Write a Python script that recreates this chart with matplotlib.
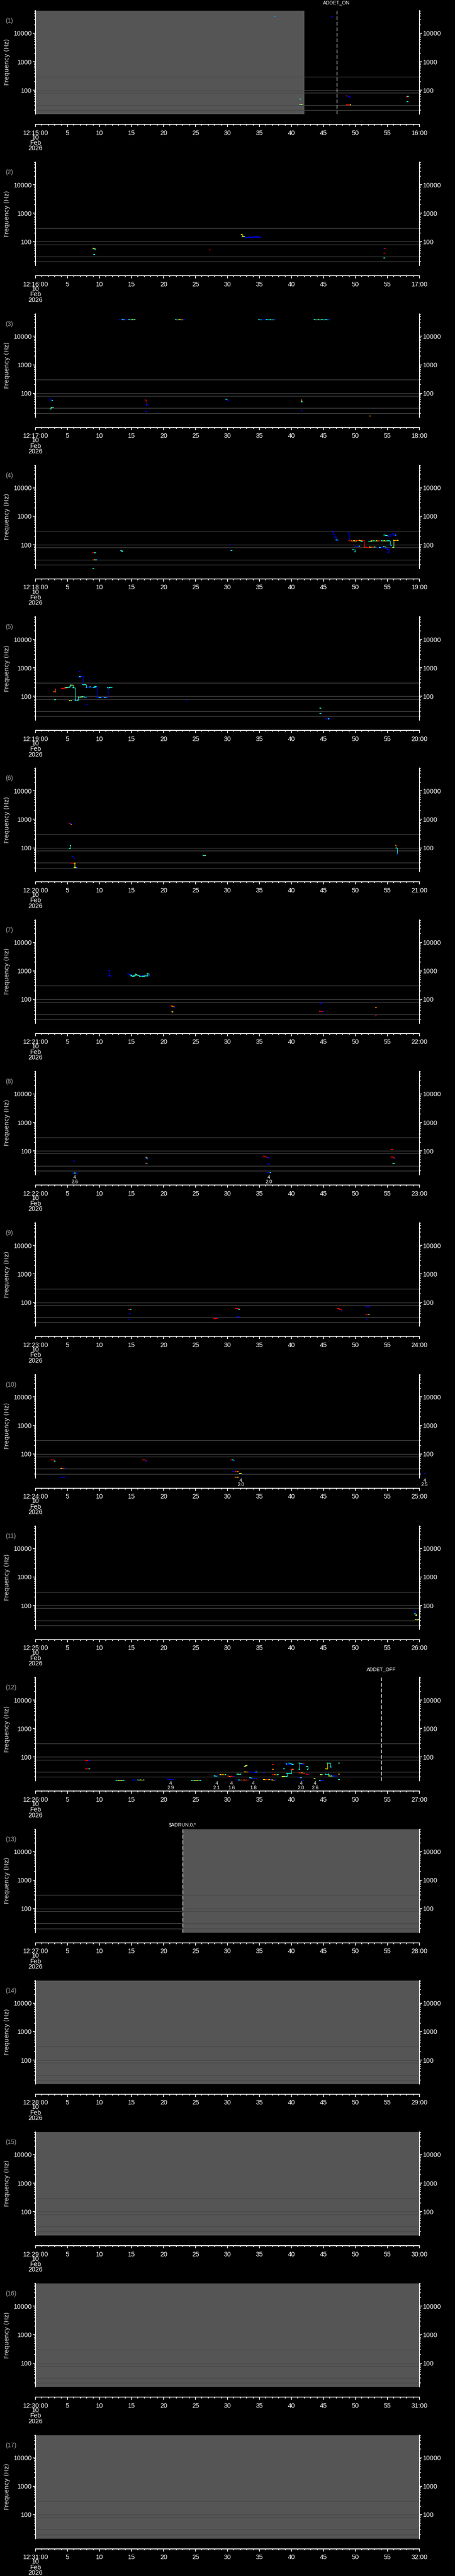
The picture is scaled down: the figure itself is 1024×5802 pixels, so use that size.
import numpy as np
import matplotlib
matplotlib.use('Agg')
import matplotlib.pyplot as plt
from matplotlib.ticker import LogLocator, NullFormatter, MultipleLocator

plt.rcParams['font.family'] = ['Liberation Sans', 'DejaVu Sans']

# colour levels on the jet scale
B, LB, C, G, Y, O, R = 0.12, 0.28, 0.38, 0.52, 0.66, 0.78, 0.90

n_panels = 17
first_minute = 15
ref_lines = [300, 100, 80, 30, 20]

shade_panels = [1, 13, 14, 15, 16, 17]
shade_start = [0, 23, 0, 0, 0, 0]
shade_end = [42, 60, 60, 60, 60, 60]

event_panels = [1, 12, 13]
event_times = [47.06, 54.0, 23.0]
event_labels = ['ADDET_ON', 'ADDET_OFF', '$ADRUN,0,*']
event_label_y = [6, 6, 15]   # px above panel top

# tracks: (seconds, frequency Hz, colour level)
p01 = [
    ([37.4], [38600], [LB]),
    ([46.3], [38000], [B]),
    ([41.4], [48.7], [C]),
    ([41.3, 41.6], [31.7, 31.7], [C, Y]),
    ([48.6, 48.8, 49.0, 49.2], [63, 63, 58, 55], [R, B, B, B]),
    ([48.6, 48.9, 49.2], [30.3, 30.3, 30.3], [R, R, Y]),
    ([58.0, 58.2], [59.8, 60.5], [R, C]),
    ([58.1], [40.3], [C]),
]
p02 = [
    ([9.0, 9.15, 9.3], [60, 57, 55], [Y, Y, C]),
    ([9.2], [35.3], [C]),
    ([27.2], [50.6], [R]),
    ([32.2, 32.35, 32.6, 32.8, 33.0, 33.3, 33.5, 33.7, 33.9, 34.1, 34.3, 34.5, 34.7, 34.9, 35.1],
     [178, 152, 150, 145, 143, 144, 146, 142, 145, 146, 150, 145, 150, 142, 142],
     [Y, Y, C, B, B, B, B, B, B, B, B, B, B, B, B]),
    ([54.5, 54.6], [57, 58], [B, R]),
    ([54.5], [39.4], [R]),
    ([54.5], [26.5], [C]),
]
p03 = [
    ([13.1, 13.6, 14.1, 14.6, 15.1, 15.5], [38600] * 6, [B, C, B, C, Y, C]),
    ([21.9, 22.5, 23.2], [38600] * 3, [C, Y, B]),
    ([34.9, 35.5, 36.1, 36.7, 37.4], [38600] * 5, [C, B, C, C, B]),
    ([43.6, 44.2, 44.8, 45.4, 45.9], [38600] * 5, [C, G, C, C, B]),
    ([2.27, 2.45, 2.59], [64, 58, 55.6], [B, B, C]),
    ([2.35, 2.45, 2.75], [27.8, 31.7, 31.7], [C, G, C]),
    ([17.2, 17.35, 17.5], [58, 38.4, 38.4], [R, B, B]),
    ([17.3], [23], [B]),
    ([29.8, 29.95, 30.1], [62.5, 58, 55.6], [C, B, B]),
    ([41.55, 41.6], [58, 50.6], [O, C]),
    ([41.6], [24.7], [B]),
    ([52.3], [16], [O]),
]
p04 = [
    ([9.04, 9.3], [53, 53], [R, C]),
    ([9.0, 9.2, 9.45, 9.7], [29.2, 29.2, 29.5, 29.5], [R, Y, C, B]),
    ([9.04], [14.9], [C]),
    ([13.35, 13.55], [63.5, 57.7], [C, C]),
    ([30.5], [99], [B]),
    ([30.6], [62], [C]),
    ([46.4, 46.6, 46.8, 47.0, 47.2], [286, 228, 182, 147, 140], [B, B, B, C, B]),
    ([48.9, 49.0, 49.4, 49.8, 50.2, 50.6, 50.9, 51.1, 51.4],
     [267, 140, 140, 138, 142, 143, 135, 143, 83.6], [B, R, O, Y, R, Y, C, R, Y]),
    ([49.6, 49.9], [67, 57], [C, C]),
    ([50.0, 50.3, 50.6], [91, 90, 91], [B, B, C]),
    ([51.4, 51.8, 52.2, 52.6, 53.0], [83, 82, 84, 84, 83], [R, R, Y, R, C]),
    ([52.1, 52.5, 52.9, 53.3, 53.7, 54.1, 54.5, 55.0],
     [133, 138, 137, 138, 137, 140, 137, 140], [C, Y, C, Y, R, C, Y, C]),
    ([53.5, 53.8, 54.1, 54.4, 54.7, 55.0, 55.2], [78, 81, 80, 86, 75, 67, 67], [B, C, B, C, B, B, B]),
    ([55.15, 55.2], [55, 67], [B, B]),
    ([55.2, 55.4, 55.6], [140, 97, 97], [C, B, C]),
    ([55.9, 56.0, 56.3, 56.6], [82, 143, 143, 143], [G, Y, O, Y]),
    ([54.46, 54.8, 55.1, 55.4, 55.8, 56.0, 56.3], [220, 215, 200, 228, 254, 210, 220], [C, C, B, B, B, B, C]),
]
p05 = [
    ([2.9, 3.1], [147, 181], [O, R]),
    ([3.05], [76], [C]),
    ([4.06, 4.3, 4.6, 4.87], [186, 190, 197, 202], [R, R, O, Y]),
    ([4.87, 5.1, 5.3, 5.5, 5.7, 5.9, 6.17], [205, 205, 215, 250, 250, 200, 74], [C, C, C, G, G, C, B]),
    ([5.3, 5.6], [71.6, 71.6], [Y, G]),
    ([6.2, 6.55], [74, 74], [C, Y]),
    ([6.55, 6.7, 7.0, 7.3, 7.6, 7.9], [74, 95, 95, 98, 95, 88], [C, C, Y, C, C, B]),
    ([6.7, 6.9, 7.1, 7.4, 7.7, 7.95, 8.2, 8.5, 8.8, 9.1, 9.3, 9.5, 9.6, 10.0, 10.4, 10.8, 11.2, 11.3, 11.6, 11.9],
     [480, 490, 505, 256, 256, 210, 205, 212, 205, 210, 222, 210, 92, 92, 90, 91, 90, 200, 205, 210],
     [B, C, B, C, C, C, B, C, B, C, C, B, B, C, B, C, B, C, C, C]),
    ([6.9], [760], [B]),
    ([7.97], [52], [B]),
    ([23.6], [69], [B]),
    ([44.5], [38.5], [C]),
    ([44.5], [25.4], [C]),
    ([45.5, 45.8, 46.0], [16.5, 16.5, 16.5], [B, C, B]),
]
p06 = [
    ([5.3, 5.45, 5.6], [711, 700, 663], [R, B, O]),
    ([5.3, 5.45], [95, 124], [C, C]),
    ([5.78, 6.0], [50.6, 41.7], [B, B]),
    ([5.6, 5.85, 6.1, 6.1, 6.3, 6.5], [29, 29, 29, 20.6, 20.6, 20.6], [R, R, Y, Y, G, B]),
    ([26.2, 26.5], [54, 54], [C, G]),
    ([56.3, 56.35, 56.5], [124, 100, 60.5], [O, C, B]),
]
p07 = [
    ([11.35, 11.5, 11.75], [1030, 662, 662], [B, B, B]),
    ([14.4, 14.6, 14.9, 15.0, 15.2, 15.4, 15.6, 15.8, 16.0, 16.3, 16.6, 16.8, 17.0, 17.3, 17.5, 17.7],
     [800, 740, 720, 680, 650, 700, 760, 720, 690, 650, 700, 640, 660, 670, 790, 660],
     [B, B, C, C, C, C, C, G, C, C, B, C, C, C, C, B]),
    ([21.2, 21.4, 21.7], [60, 56, 52], [R, O, B]),
    ([21.4], [36.6], [Y]),
    ([44.5, 44.7], [70, 76], [B, B]),
    ([44.4, 44.7, 45.0], [38.4, 38.4, 38.4], [R, R, B]),
    ([53.2], [52.4], [O]),
    ([53.2], [26.5], [R]),
]
p08 = [
    ([6.0], [43.5], [B]),
    ([5.8, 6.1, 6.45], [16.6, 16.6, 16.6], [B, C, B]),
    ([17.2, 17.35, 17.5], [60, 57, 53.3], [R, C, B]),
    ([17.2, 17.4], [36.5, 36.5], [R, C]),
    ([35.7, 36.0, 36.3, 36.5], [64.5, 62, 58, 56.5], [R, R, B, B]),
    ([36.3, 36.5], [36, 35], [B, B]),
    ([36.2, 36.7], [17.3, 17.3], [B, C]),
    ([55.6, 55.8], [114, 114], [R, R]),
    ([55.6, 55.8, 56.0, 56.2], [61.7, 61.7, 57, 55], [R, R, R, B]),
    ([55.85, 56.05], [37.6, 37.6], [C, C]),
]
p09 = [
    ([14.55, 14.85], [58.4, 58.4], [R, C]),
    ([14.7], [40], [B]),
    ([14.66], [26.5], [B]),
    ([27.9, 28.2, 28.5], [27.3, 28.5, 29.8], [R, R, B]),
    ([31.3, 31.55, 31.8], [61.8, 61.8, 57.5], [R, R, C]),
    ([31.5, 31.75], [31, 31], [B, B]),
    ([47.3, 47.5, 47.8], [61.8, 58, 52], [R, R, B]),
    ([51.7, 52.1], [70, 73], [B, B]),
    ([51.7, 52.1], [37.7, 37.7], [R, G]),
    ([51.8], [26.5], [B]),
]
p10 = [
    ([2.5, 2.75, 3.0], [62.7, 62.7, 55.7], [R, R, C]),
    ([4.0, 4.3, 4.6], [31.5, 31.5, 31.5], [Y, R, B]),
    ([3.9, 4.5], [15.4, 15.4], [B, B]),
    ([16.8, 17.05, 17.3], [62.7, 62.7, 55.7], [R, R, B]),
    ([30.6, 30.8, 31.0], [62.7, 62.7, 55.7], [R, C, B]),
    ([30.8, 31.2, 31.6], [24.2, 24.2, 24.2], [B, R, O]),
    ([31.9, 32.1], [20.6, 20.6], [Y, Y]),
    ([31.2, 31.6], [15.4, 15.4], [O, Y]),
    ([60.8], [20.4], [B]),
]
p11 = [
    ([59.2, 59.3, 59.5], [64.6, 50, 46], [B, C, Y]),
    ([59.4, 59.8], [31.6, 31.6], [Y, G]),
]
p12 = [
    ([7.85, 8.1, 8.4], [76, 76, 76], [R, R, B]),
    ([7.85, 8.1, 8.4], [38, 38, 38], [R, R, C]),
    ([12.6, 13.0, 13.4, 13.8], [14.9] * 4, [C, Y, G, C]),
    ([15.2, 15.6, 16.0, 16.4, 16.9], [15.5] * 5, [B, B, C, Y, C]),
    ([20.6, 21.0, 21.5], [16.7, 16.1, 16.1], [B, B, B]),
    ([24.4, 24.9, 25.3, 25.8], [14.9] * 4, [C, Y, G, C]),
    ([28.0, 28.5], [22, 22], [C, B]),
    ([28.9, 29.3, 29.7], [24, 24, 24.5], [Y, O, C]),
    ([30.1, 30.3, 30.6, 31.0], [22, 21, 21, 21], [R, O, R, B]),
    ([31.5, 31.7, 32.0], [24.8, 25.5, 25.5], [C, G, C]),
    ([31.4, 31.8, 32.2, 32.6, 33.0, 33.3], [15.5] * 6, [B, C, R, O, R, B]),
    ([32.7, 32.8, 33.0], [46, 50, 52], [G, Y, G]),
    ([32.7, 33.0, 33.4, 33.8, 34.2, 34.5], [30.3, 30.3, 29.5, 29.5, 29, 29.5], [Y, O, B, B, B, C]),
    ([33.5, 33.8, 34.2, 34.5], [18.7, 17.6, 17.6, 17.6], [C, B, B, B]),
    ([35.7], [28], [B]),
    ([35.7, 36.1, 36.5, 36.8], [16.1] * 4, [Y, R, Y, B]),
    ([37.05], [54.3], [R]),
    ([37.05], [36.7], [O]),
    ([37.05, 37.4, 37.85], [24.6, 24.6, 24], [R, O, C]),
    ([37.0, 37.5], [15.5, 15.5], [Y, B]),
    ([38.6, 38.9, 39.2, 39.3, 39.6, 39.85, 40.0, 40.2],
     [21.2, 21.2, 21.2, 26.8, 26.8, 26.8, 37.5, 37.5], [Y, G, C, C, C, C, R, O]),
    ([38.8], [38.4], [C]),
    ([39.0, 39.2, 39.4, 39.6, 39.8, 40.0, 40.2], [62, 58, 56, 62, 56, 58, 56], [B, C, B, C, B, C, C]),
    ([41.2, 41.25, 41.5, 41.7, 41.9], [37.5, 62, 60, 56, 62], [C, C, C, B, R]),
    ([41.2, 41.6, 42.0], [27.5, 27.5, 26.5], [R, O, R]),
    ([41.2, 41.5], [18.8, 18.8], [B, C]),
    ([41.85], [14.9], [B]),
    ([42.35, 42.5, 42.55], [45.4, 45.4, 37.5], [C, C, C]),
    ([42.35, 42.8], [24.7, 24.7], [R, B]),
    ([43.6], [17.2], [Y]),
    ([44.4, 44.7, 45.0], [14.9] * 3, [C, B, B]),
    ([44.55, 44.75], [24.5, 23.8], [Y, C]),
    ([45.3, 45.8, 45.85, 46.2, 46.6, 47.0], [24.7, 24.7, 21.4, 21.4, 21.4, 21.8], [C, C, Y, C, B, B]),
    ([45.4, 45.6, 45.9, 46.1], [38, 60.5, 60.5, 45], [Y, C, C, C]),
    ([47.4], [60.5], [C]),
    ([47.4], [25.5], [O]),
    ([47.4], [16.1], [C]),
]
panel_tracks = {1: p01, 2: p02, 3: p03, 4: p04, 5: p05, 6: p06, 7: p07, 8: p08,
                9: p09, 10: p10, 11: p11, 12: p12}

# small "4 / x.x" notes under the plot
p08_notes = [(6.1, '2.6'), (36.45, '2.0')]
p10_notes = [(32.07, '2.0'), (60.8, '2.5')]
p12_notes = [(21.1, '2.9'), (28.3, '2.1'), (30.6, '1.6'), (34.0, '1.8'), (41.5, '2.0'), (43.7, '2.6')]
panel_notes = {8: p08_notes, 10: p10_notes, 12: p12_notes}

W, H, DPI = 1024, 5802, 100
PH = H / n_panels
cmap = plt.get_cmap('jet')


def draw_track(ax, t, f, c):
    for k in range(len(t) - 1):
        ax.plot([t[k], t[k + 1], t[k + 1]], [f[k], f[k], f[k + 1]], color=cmap(c[k]),
                lw=0.8, zorder=3, clip_on=False)
    ax.scatter(t, f, c=[cmap(v) for v in c], marker='_', s=6, linewidths=1.3,
               zorder=4, clip_on=False)


fig = plt.figure(figsize=(W / DPI, H / DPI), dpi=DPI, facecolor='black')

for i in range(n_panels):
    num = i + 1
    off = i * PH
    ax = fig.add_axes([80 / W, 1 - (off + 257) / H, 864 / W, 233 / H])
    ax.set_facecolor('black')
    ax.set_xlim(0, 60)
    ax.set_yscale('log')
    ax.set_ylim(14.5, 62000)

    for s in ['left', 'right', 'bottom']:
        ax.spines[s].set_color('white')
        ax.spines[s].set_linewidth(1.3)
    ax.spines['top'].set_visible(False)
    ax.spines['bottom'].set_position(('outward', 23 * 72 / DPI))

    ax.set_yticks([100, 1000, 10000])
    ax.set_yticklabels(['100', '1000', '10000'])
    ax.yaxis.set_minor_locator(LogLocator(base=10, subs=np.arange(2, 10)))
    ax.yaxis.set_minor_formatter(NullFormatter())
    ax.tick_params(axis='y', which='both', direction='out', colors='white', width=1.2,
                   left=True, right=True, labelleft=True, labelright=True, labelsize=10.5, pad=2)
    ax.tick_params(axis='y', which='major', length=4)
    ax.tick_params(axis='y', which='minor', length=2.5)

    m = first_minute + i
    ax.set_xticks(np.arange(0, 61, 5))
    ax.set_xticklabels(['12:%02d:00' % m] + [str(v) for v in range(5, 60, 5)] + ['%02d:00' % (m + 1)])
    ax.xaxis.set_minor_locator(MultipleLocator(1))
    ax.tick_params(axis='x', which='both', direction='out', colors='white', width=1.2,
                   labelsize=10.5, pad=5)
    ax.tick_params(axis='x', which='major', length=4)
    ax.tick_params(axis='x', which='minor', length=2.5)

    if num in shade_panels:
        j = shade_panels.index(num)
        ax.axvspan(shade_start[j], shade_end[j], color='#555555', lw=0, zorder=0)
    for f in ref_lines:
        ax.axhline(f, color='#474747', lw=1.0, zorder=1)

    for t, f, c in panel_tracks.get(num, []):
        draw_track(ax, t, f, c)

    for t, v in panel_notes.get(num, []):
        ax.text(t, (257 - 268) / 233, '4\n' + v, transform=ax.get_xaxis_transform(),
                ha='center', va='center', color='white', fontsize=8, linespacing=0.95)

    if num in event_panels:
        j = event_panels.index(num)
        ax.axvline(event_times[j], color='white', lw=1.0, dashes=(6, 3), zorder=5)
        ax.text(event_times[j], (257 - event_label_y[j]) / 233, event_labels[j],
                transform=ax.get_xaxis_transform(), ha='center', va='center',
                color='white', fontsize=8, family=['Liberation Sans Narrow', 'Liberation Sans'],
                parse_math=False)

    fig.text(12 / W, 1 - (off + 47) / H, '(%d)' % num, color='#a0a0a0', fontsize=10,
             ha='left', va='center')
    fig.text(16 / W, 1 - (off + 140) / H, 'Frequency (Hz)', rotation=90, color='#d8d8d8',
             fontsize=10, family='DejaVu Sans', ha='center', va='center')
    fig.text(80 / W, 1 - (off + 322) / H, '10\nFeb\n2026', color='white', fontsize=10.5,
             ha='center', va='center', linespacing=0.85)

fig.savefig('out.png', dpi=DPI, facecolor='black')
